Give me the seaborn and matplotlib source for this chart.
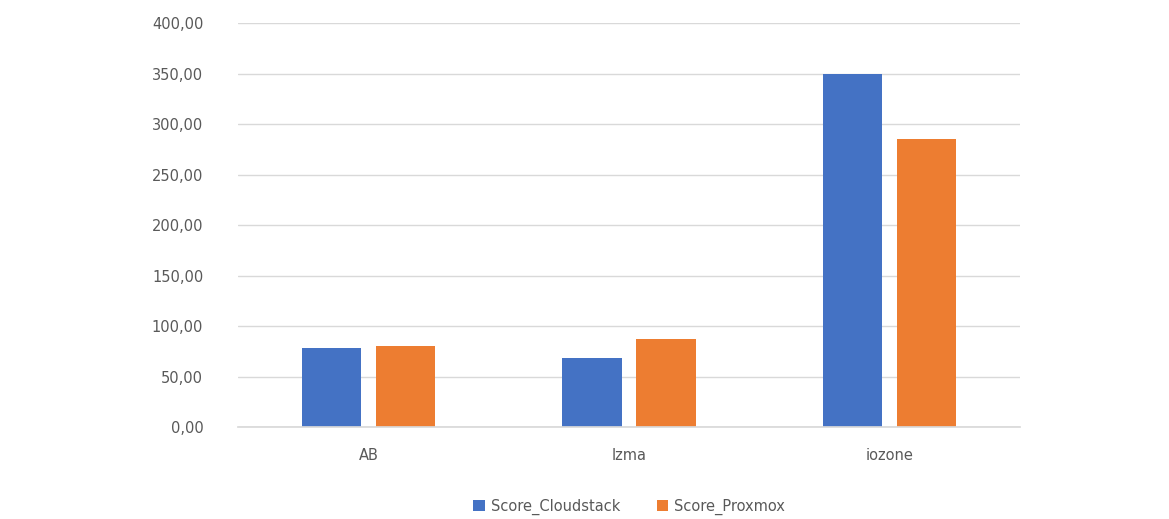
import pandas as pd
import matplotlib.pyplot as plt
import seaborn as sns
from matplotlib.ticker import FuncFormatter

# === Data ===
categories = ["AB", "lzma", "iozone"]
series_names = ["Score_Cloudstack", "Score_Proxmox"]
score_cloudstack = [78.0, 68.6, 349.5]
score_proxmox = [80.0, 87.0, 285.0]

df = pd.DataFrame({
    "benchmark": categories * 2,
    "series": [series_names[0]] * 3 + [series_names[1]] * 3,
    "score": score_cloudstack + score_proxmox,
})

# === Plot ===
sns.set_theme(style="white")
plt.rcParams['font.family'] = ['DejaVu Sans']

fig = plt.figure(figsize=(11.69, 5.19), dpi=100)
ax = fig.add_axes([0.2036, 0.177, 0.669, 0.7787])

palette = {"Score_Cloudstack": "#4472C4", "Score_Proxmox": "#ED7D31"}
sns.barplot(data=df, x="benchmark", y="score", hue="series", palette=palette,
            width=0.568, gap=0.2, ax=ax, saturation=1, legend=True, linewidth=0)

ax.set_ylim(0, 400)
ax.set_yticks(range(0, 401, 50))
ax.yaxis.set_major_formatter(FuncFormatter(lambda v, _: f"{v:.2f}".replace(".", ",")))
ax.grid(axis="y", color="#d9d9d9", linewidth=1)
ax.set_axisbelow(True)
for side in ["top", "right", "left"]:
    ax.spines[side].set_visible(False)
ax.spines["bottom"].set_color("#d9d9d9")
ax.tick_params(axis="y", length=0, pad=25, labelsize=10.5, labelcolor="#595959")
ax.tick_params(axis="x", length=0, pad=15, labelsize=10.5, labelcolor="#595959")
ax.set_xlabel("")
ax.set_ylabel("")

ax.legend(loc="upper center", bbox_to_anchor=(0.5, -0.145), ncol=2, frameon=False,
          fontsize=10.5, labelcolor="#595959", handlelength=0.8, handleheight=0.8,
          columnspacing=2.5, handletextpad=0.4)

plt.savefig("out.png", dpi=100)
